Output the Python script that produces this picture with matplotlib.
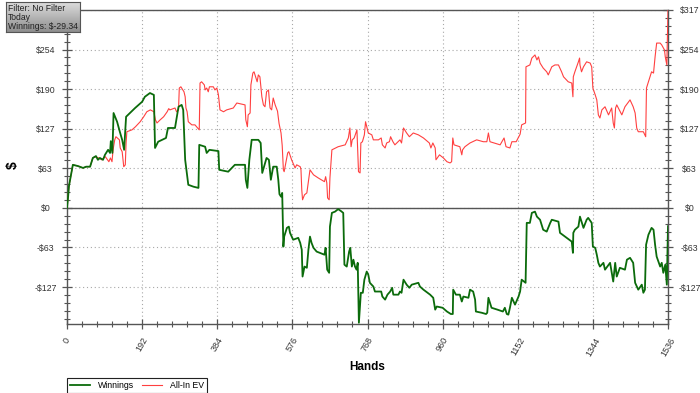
import matplotlib
matplotlib.use("Agg")
import matplotlib.pyplot as plt
import numpy as np
from matplotlib.lines import Line2D
from matplotlib.ticker import FixedLocator, MultipleLocator

# ------------------------------------------------------------------
# data (hands, dollars)
# ------------------------------------------------------------------
win_hands = [0, 3, 5, 8, 15, 28, 41, 49, 59, 66, 74, 79, 84, 92, 97, 105, 110, 112, 116,
             119, 128, 135, 141, 146, 151, 156, 174, 192, 199, 212, 222, 225, 233, 253, 258,
             276, 285, 293, 297, 302, 310, 323, 336, 338, 353, 357, 364, 387, 389, 412, 429,
             455, 457, 461, 466, 472, 489, 495, 499, 510, 516, 521, 527, 536, 540, 543, 547,
             550, 553, 555, 562, 567, 570, 578, 591, 596, 600, 602, 607, 613, 617, 621, 625,
             630, 638, 658, 661, 665, 670, 672, 677, 685, 693, 700, 706, 709, 715, 721, 724,
             728, 732, 736, 740, 743, 746, 751, 756, 760, 766, 770, 774, 783, 787, 803, 806,
             813, 819, 826, 831, 834, 847, 851, 855, 860, 868, 875, 881, 898, 902, 911, 928,
             936, 941, 945, 960, 971, 981, 986, 987, 994, 1004, 1009, 1013, 1026, 1030, 1038,
             1043, 1045, 1060, 1071, 1074, 1077, 1085, 1100, 1114, 1119, 1124, 1128, 1132,
             1137, 1145, 1154, 1158, 1162, 1172, 1175, 1183, 1188, 1196, 1201, 1209, 1217,
             1226, 1235, 1239, 1256, 1260, 1277, 1290, 1293, 1294, 1298, 1307, 1311, 1315,
             1320, 1328, 1332, 1341, 1344, 1350, 1354, 1358, 1362, 1371, 1375, 1388, 1396,
             1401, 1405, 1413, 1426, 1431, 1439, 1447, 1452, 1460, 1469, 1473, 1477, 1480,
             1486, 1494, 1499, 1503, 1507, 1516, 1520, 1524, 1529, 1533, 1536]
win_vals = [0, 19, 35, 45, 69, 67, 64, 66, 66, 80, 83, 77, 80, 77, 85, 93, 88, 107, 88,
            152, 138, 122, 109, 93, 146, 149, 160, 170, 178, 184, 181, 96, 106, 112, 128,
            128, 162, 165, 157, 77, 37, 34, 32, 101, 98, 88, 93, 91, 61, 58, 69,
            69, 45, 32, 77, 109, 109, 104, 56, 80, 77, 45, 66, 66, 45, 22, 18,
            24, -62, -46, -32, -30, -40, -51, -48, -56, -67, -110, -94, -96, -67, -46, -56,
            -64, -70, -75, -64, -99, -104, -30, -8, -6, -2, -5, -8, -91, -94, -70, -64,
            -94, -83, -94, -99, -88, -184, -136, -136, -115, -102, -107, -120, -126, -134, -134, -142,
            -147, -139, -134, -128, -139, -139, -134, -136, -115, -123, -128, -123, -120, -126, -131, -139,
            -144, -163, -158, -160, -166, -170, -170, -131, -139, -139, -150, -142, -144, -131, -134,
            -147, -166, -168, -170, -168, -144, -160, -163, -166, -160, -170, -171, -160,
            -144, -155, -142, -134, -115, -120, -24, -24, -8, -6, -14, -19, -35,
            -38, -24, -19, -22, -40, -48, -54, -72, -40, -35, -30, -14, -22,
            -32, -19, -16, -24, -62, -64, -75, -88, -94, -88, -99, -88, -118,
            -88, -110, -96, -99, -83, -80, -88, -120, -131, -123, -136, -131, -59,
            -43, -32, -35, -59, -78, -94, -88, -104, -91, -123, -29.34]

ev_hands = [0, 3, 5, 8, 15, 28, 41, 49, 59, 66, 72, 81, 89, 98, 107, 111, 115, 117, 119,
            122, 125, 134, 136, 141, 145, 149, 151, 153, 166, 175, 187, 196, 204, 213, 222,
            226, 230, 238, 247, 256, 260, 263, 276, 280, 285, 287, 291, 299, 302, 304, 307,
            310, 319, 327, 331, 338, 340, 344, 351, 353, 357, 361, 364, 374, 378, 383, 387,
            391, 400, 408, 425, 434, 455, 457, 461, 463, 468, 470, 475, 478, 482, 486, 489,
            493, 498, 502, 506, 510, 515, 517, 519, 523, 527, 532, 538, 542, 547, 550, 553,
            555, 564, 567, 574, 583, 587, 596, 598, 600, 602, 607, 613, 617, 621, 630, 642,
            658, 661, 664, 666, 670, 672, 677, 693, 711, 719, 723, 726, 729, 734, 741, 745,
            749, 751, 755, 760, 763, 770, 779, 783, 796, 803, 806, 813, 817, 824, 827, 833,
            838, 851, 855, 860, 868, 875, 885, 898, 911, 926, 930, 935, 941, 943, 952, 962,
            971, 979, 983, 986, 989, 1004, 1009, 1011, 1017, 1030, 1047, 1064, 1073, 1077,
            1081, 1107, 1117, 1122, 1132, 1137, 1148, 1158, 1162, 1172, 1173, 1183, 1188,
            1196, 1201, 1205, 1209, 1217, 1226, 1230, 1239, 1247, 1256, 1264, 1269, 1281,
            1290, 1293, 1294, 1298, 1307, 1310, 1311, 1315, 1320, 1328, 1337, 1341, 1344,
            1350, 1354, 1358, 1362, 1367, 1375, 1384, 1392, 1396, 1399, 1402, 1405, 1418,
            1426, 1439, 1447, 1452, 1456, 1460, 1473, 1479, 1481, 1486, 1494, 1499, 1503,
            1507, 1516, 1520, 1527, 1529, 1533, 1536]
ev_vals = [0, 19, 35, 45, 69, 67, 64, 66, 66, 80, 82, 80, 77, 82, 74, 80, 74, 88, 98,
           109, 114, 109, 96, 90, 66, 69, 104, 122, 125, 130, 138, 146, 154, 157, 154,
           141, 136, 141, 146, 154, 159, 157, 160, 154, 157, 192, 194, 186, 178, 160, 154,
           138, 133, 133, 130, 125, 200, 202, 197, 189, 192, 186, 194, 194, 189, 192, 181,
           157, 154, 157, 160, 168, 165, 141, 130, 149, 152, 197, 216, 218, 210, 202, 213,
           210, 178, 165, 162, 186, 189, 173, 160, 157, 176, 165, 155, 135, 120, 100, 61,
           58, 88, 90, 77, 64, 69, 66, 61, 29, 13, 21, 24, 42, 61, 53, 48,
           42, 50, 40, 16, 13, 48, 93, 98, 101, 112, 128, 98, 109, 112, 125, 58,
           56, 104, 106, 117, 138, 120, 117, 109, 109, 112, 101, 96, 104, 106, 114, 106,
           101, 109, 104, 128, 120, 114, 120, 117, 112, 104, 96, 104, 96, 77, 85, 80,
           74, 72, 74, 112, 101, 98, 85, 93, 98, 104, 109, 106, 106, 120,
           106, 101, 112, 98, 96, 106, 106, 118, 133, 136, 226, 229, 240,
           245, 237, 242, 232, 224, 218, 213, 226, 229, 229, 218, 210, 202,
           200, 178, 210, 218, 234, 240, 229, 218, 226, 234, 232, 226, 192,
           181, 173, 149, 144, 157, 162, 149, 160, 136, 128, 160, 165, 149,
           162, 173, 162, 152, 128, 122, 122, 114, 192, 202, 218, 216, 242,
           264, 264, 261, 253, 242, 229, 317]

x_ticks = [0, 192, 384, 576, 768, 960, 1152, 1344, 1536]
y_step = 317 / 5
y_ticks = [k * y_step for k in range(-2, 6)]
y_labels = ["-$127", "-$63", "$0", "$63", "$127", "$190", "$254", "$317"]
info_lines = "Filter: No Filter\nToday\nWinnings: $-29.34"

plt.rcParams['font.family'] = ['Liberation Sans', 'DejaVu Sans']

W, H = 700, 393
fig = plt.figure(figsize=(W / 100, H / 100), dpi=100)
ax = fig.add_axes([67 / W, 1 - 324 / H, 601 / W, 314 / H])

ax.plot(ev_hands, ev_vals, color='#ff4040', lw=0.8, zorder=3)
ax.plot(win_hands, win_vals, color='#0b6b0b', lw=1.3, zorder=4)
ax.axhline(0, color='#555555', lw=1.0, zorder=2)

ax.set_xlim(0, 1536)
ax.set_ylim(-186, 317)

ax.xaxis.set_major_locator(FixedLocator(x_ticks))
ax.xaxis.set_minor_locator(MultipleLocator(192 / 5))
ax.yaxis.set_major_locator(FixedLocator(y_ticks))
ax.yaxis.set_minor_locator(MultipleLocator(y_step / 5))
ax.set_xticklabels([str(t) for t in x_ticks])
ax.set_yticklabels(y_labels)

ax.grid(which='major', color='#a8a8a8', lw=0.8, linestyle=(0, (1, 2.5)))
ax.set_axisbelow(True)

for s in ax.spines.values():
    s.set_color('#555555')
    s.set_linewidth(1.0)

ax.tick_params(which='major', direction='inout', length=7, width=0.9, color='#555555',
               labelsize=6.3, labelcolor='#333333')
ax.tick_params(which='minor', direction='inout', length=5, width=0.8, color='#555555')
ax.tick_params(axis='y', which='both', left=True, right=True, labelleft=True, labelright=True, pad=12)
ax.tick_params(axis='x', which='major', pad=5, labelsize=6.5)

ymajor = ax.yaxis.get_major_ticks()
for t in ymajor:
    t.label1.set_ha('center')
    t.label2.set_ha('center')
# top-left label sits under the info box in the reference
ymajor[-1].label1.set_visible(False)
for lab in ax.get_xticklabels():
    lab.set_rotation(60)
    lab.set_ha('center')
    lab.set_va('top')

fig.text(367 / W, 1 - 367 / H, "Hands", ha='center', va='center', fontsize=8.5, fontweight='bold')
fig.text(13 / W, 1 - 165 / H, "$", ha='center', va='center', fontsize=10, fontweight='bold',
         rotation=90)

# legend at the bottom, partly cut by the figure edge
handles = [Line2D([], [], color='#0b6b0b', lw=1.3), Line2D([], [], color='#ff4040', lw=0.8)]
leg = fig.legend(handles, ["Winnings", "All-In EV"], loc='upper left',
                 bbox_to_anchor=(67 / W, 1 - 378 / H), ncol=2, fontsize=6.3, frameon=True,
                 fancybox=False, edgecolor='#222222', framealpha=1, handlelength=2.3,
                 borderpad=0.35, columnspacing=0.9, handletextpad=0.9, borderaxespad=0)
leg.get_frame().set_linewidth(0.8)

# info box top left with grey gradient
bx = fig.add_axes([6 / W, 1 - 32 / H, 74 / W, 30 / H])
grad = np.linspace(0, 1, 50).reshape(-1, 1)
bx.imshow(grad, cmap=plt.matplotlib.colors.LinearSegmentedColormap.from_list(
    'g', ['#dcdcdc', '#8e8e8e']), aspect='auto', extent=[0, 1, 0, 1])
bx.set_xticks([])
bx.set_yticks([])
for s in bx.spines.values():
    s.set_color('#555555')
    s.set_linewidth(0.8)
bx.text(0.03, 0.47, info_lines, ha='left', va='center', fontsize=6.2, color='#222222',
        linespacing=1.0, transform=bx.transAxes)

fig.savefig("out.png", dpi=100)
